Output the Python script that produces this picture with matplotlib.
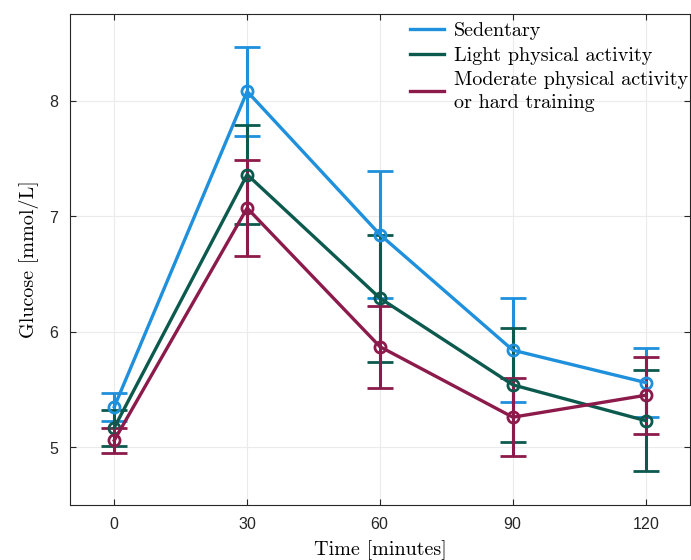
import matplotlib
matplotlib.use("Agg")
import matplotlib.pyplot as plt
from matplotlib.lines import Line2D
import numpy as np

# time points and glucose means / half error bar
time_min = [0, 30, 60, 90, 120]

sed_mean = [5.35, 8.08, 6.84, 5.84, 5.56]
sed_err = [0.12, 0.385, 0.55, 0.45, 0.30]

light_mean = [5.17, 7.36, 6.29, 5.54, 5.23]
light_err = [0.155, 0.425, 0.55, 0.495, 0.44]

mod_mean = [5.06, 7.07, 5.87, 5.26, 5.45]
mod_err = [0.11, 0.415, 0.355, 0.34, 0.335]

labels = ["Sedentary", "Light physical activity",
          "Moderate physical activity\nor hard training"]
colors = ["#1E90DC", "#0C5A4E", "#8C1B4B"]

plt.rcParams['font.family'] = ['Liberation Sans', 'DejaVu Sans']
plt.rcParams['axes.formatter.use_mathtext'] = True

fig = plt.figure(figsize=(6.91, 5.6), dpi=100)
ax = fig.add_axes([70/691, 1-505/560, 620/691, 491/560])

series = [(sed_mean, sed_err), (light_mean, light_err), (mod_mean, mod_err)]
handles = []
for (m, e), lab, c in zip(series, labels, colors):
    ax.errorbar(time_min, m, yerr=e, color=c, lw=2.4, marker='o', ms=8,
                mfc='none', mew=2.0, capsize=9.5, capthick=2.2,
                elinewidth=2.2)
    handles.append(Line2D([], [], color=c, lw=2.4, label=lab))

ax.set_xlim(-10, 130)
ax.set_ylim(4.5, 8.75)
ax.set_xticks(time_min)
ax.set_yticks([5, 6, 7, 8])
ax.grid(True, color='#ebebeb', lw=0.8)
ax.set_axisbelow(True)
ax.tick_params(direction='in', top=True, right=True, length=4, width=0.8,
               colors='#262626', labelsize=11.5, pad=8)
for s in ax.spines.values():
    s.set_color('#262626')
    s.set_linewidth(0.8)

ax.set_xlabel("Time [minutes]", family='cmr10', fontsize=14.5, labelpad=6)
ax.set_ylabel("Glucose [mmol/L]", family='cmr10', fontsize=14.5, labelpad=7)

leg = ax.legend(handles=handles, loc='upper left',
                bbox_to_anchor=((410 - 70) / 620, (505 - 22) / 491),
                frameon=False, prop={'family': 'cmr10', 'size': 14.5},
                handlelength=1.7, handletextpad=0.5, labelspacing=0.33,
                borderaxespad=0.0, borderpad=0.0)
leg.get_texts()[2].set_linespacing(1.3)

fig.savefig("out.png", dpi=100)
